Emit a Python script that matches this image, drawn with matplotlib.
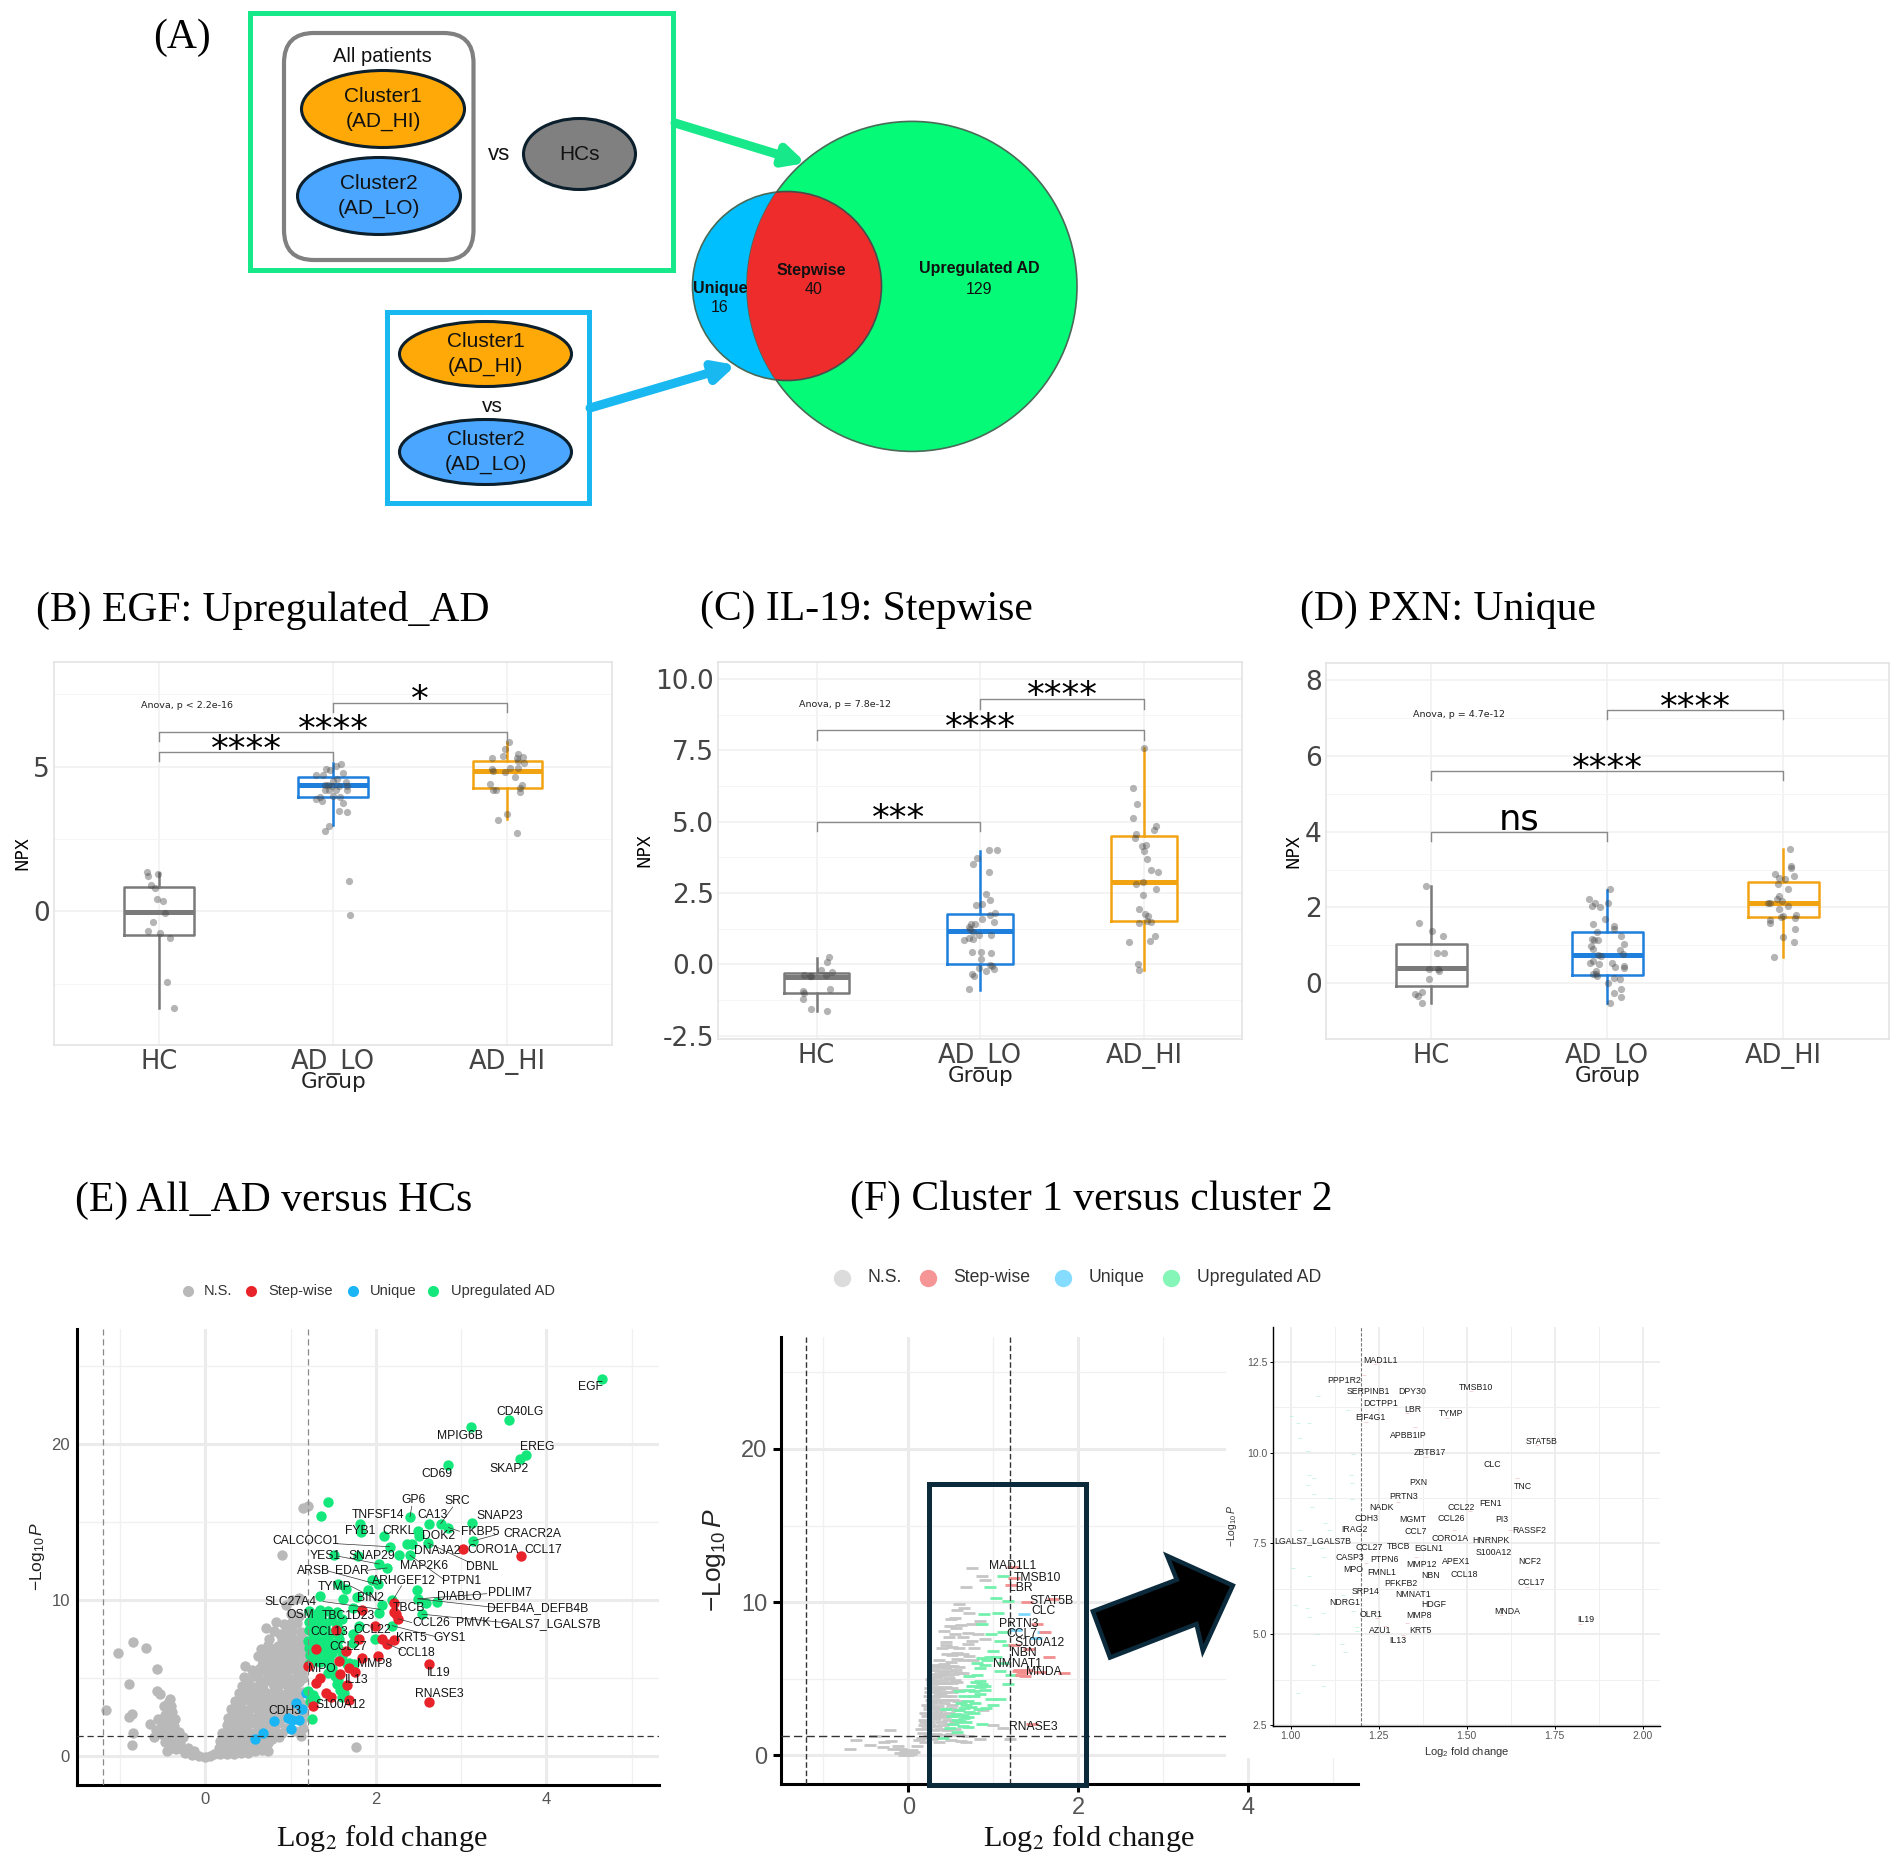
import matplotlib
matplotlib.use('Agg')
import matplotlib.pyplot as plt
from matplotlib.patches import Ellipse, Circle, Rectangle, FancyBboxPatch, FancyArrowPatch, Polygon
from matplotlib.lines import Line2D

plt.rcParams['font.family'] = ['Liberation Sans', 'DejaVu Sans']
plt.rcParams['mathtext.fontset'] = 'custom'
plt.rcParams['mathtext.rm'] = 'Liberation Sans'
plt.rcParams['mathtext.it'] = 'Liberation Sans:italic'

W, H = 1902, 1864
groups = ['HC', 'AD_LO', 'AD_HI']
group_cols = ['#7a7a7a', '#1f7fdc', '#f2a312']

# box stats: q1, median, q3, whisker low, whisker high
egf_box = [(-0.83, -0.02, 0.86, -3.33, 1.34), (3.94, 4.36, 4.65, 2.98, 5.12), (4.25, 4.86, 5.2, 3.18, 5.84)]
il19_box = [(-1.0, -0.43, -0.30, -1.65, 0.24), (0.02, 1.16, 1.78, -0.9, 3.98), (1.53, 2.89, 4.5, -0.2, 7.57)]
pxn_box = [(-0.06, 0.40, 1.04, -0.52, 2.56), (0.22, 0.74, 1.34, -0.52, 2.47), (1.74, 2.13, 2.66, 0.69, 3.54)]

# jittered points, x is offset from group centre
egf_hc_x = [-0.07, -0.06, -0.005, -0.047, -0.02, -0.012, 0.026, 0.037, -0.033, -0.063, 0.007, 0.065, 0.049, 0.089]
egf_hc_y = [1.37, 1.21, 1.29, 0.91, 0.82, 0.43, 0.35, -0.04, -0.37, -0.69, -0.76, -0.90, -2.44, -3.34]
egf_lo_x = [-0.096, -0.061, -0.042, -0.019, 0.014, 0.044, 0.056, 0.023, -0.002, 0.033, 0.075, 0.08, 0.082, -0.049, -0.03, -0.009,
            -0.049, -0.026, 0.016, -0.002, 0.037, -0.096, -0.073, -0.065, 0.056, 0.035, 0.077, -0.026, -0.044, 0.091, 0.098]
egf_lo_y = [4.73, 4.71, 4.91, 4.88, 5.02, 5.08, 4.79, 4.59, 4.50, 4.32, 4.46, 4.35, 4.21, 4.38, 4.38, 4.32,
            4.18, 4.21, 4.18, 4.0, 3.95, 3.89, 3.95, 3.80, 3.74, 3.48, 3.45, 2.96, 2.78, 1.05, -0.13]
egf_hi_x = [0.007, -0.014, -0.026, -0.089, 0.061, 0.089, 0.054, 0.061, 0.096, 0.061, 0.014, -0.014, -0.089, -0.084, 0.044, -0.098,
            0.084, 0.073, -0.084, -0.065, 0.073, -0.005, -0.054, 0.056]
egf_hi_y = [5.84, 5.61, 5.37, 5.29, 5.45, 5.35, 5.32, 5.2, 5.14, 4.97, 4.97, 4.83, 4.93, 4.84, 4.66, 4.42,
            4.38, 4.26, 4.18, 4.18, 4.12, 3.36, 3.17, 2.71]

il19_hc_x = [0.077, 0.065, 0.03, 0.092, -0.077, -0.04, -0.032, 0.055, 0.08, -0.08, -0.075, -0.085, -0.032, 0.065]
il19_hc_y = [0.25, 0.07, -0.21, -0.26, -0.38, -0.39, -0.42, -0.38, -0.88, -0.94, -1.02, -1.21, -1.56, -1.64]
il19_lo_x = [0.055, 0.1, -0.02, -0.042, 0.052, 0.035, 0.057, -0.025, 0.012, 0.062, 0.09, 0.012, -0.03, -0.055, -0.067, -0.06, 0.082, -0.042,
             -0.01, 0.065, -0.067, -0.097, -0.047, -0.05, 0.007, 0.065, 0.007, -0.005, 0.057, 0.07, 0.087, 0.037, -0.05, -0.04, -0.067]
il19_lo_y = [4.0, 4.0, 3.74, 3.51, 3.23, 2.46, 2.27, 2.09, 2.12, 1.73, 1.8, 1.59, 1.43, 1.43, 1.32, 1.23, 1.49, 1.14,
             1.04, 1.03, 0.92, 0.86, 0.88, 0.43, 0.44, 0.39, 0.19, -0.11, -0.02, -0.07, -0.17, -0.24, -0.32, -0.41, -0.88]
il19_hi_x = [0.002, -0.065, -0.042, -0.065, 0.075, 0.065, -0.045, -0.055, 0.012, -0.012, 0.002, 0.022, 0.042, 0.087, -0.005, -0.05, 0.077,
             -0.007, -0.03, 0.005, 0.025, 0.02, -0.032, 0.045, 0.07, -0.09, 0.035, -0.037, -0.03]
il19_hi_y = [7.57, 6.16, 5.61, 5.12, 4.83, 4.71, 4.57, 4.43, 4.19, 4.15, 3.97, 3.68, 3.32, 3.25, 2.89, 2.81, 2.65,
             2.42, 1.95, 1.76, 1.71, 1.53, 1.44, 1.47, 0.99, 0.8, 0.82, 0.01, -0.19]

pxn_hc_x = [-0.028, -0.072, 0.005, 0.065, 0.074, 0.032, -0.016, 0.039, 0.042, -0.012, -0.053, -0.095, -0.076, -0.053]
pxn_hc_y = [2.56, 1.58, 1.38, 1.25, 0.8, 0.79, 0.38, 0.38, 0.33, 0.11, -0.23, -0.29, -0.34, -0.53]
pxn_lo_x = [0.014, -0.102, -0.072, -0.09, -0.042, 0.005, -0.014, -0.081, 0.035, 0.035, -0.056, 0.076, -0.086, -0.074, -0.051, 0.095, -0.095, -0.083, 0.072, 0.09,
            -0.051, -0.035, -0.081, -0.1, -0.049, 0.025, 0.044, 0.093, 0.093, -0.067, -0.067, -0.081, -0.058, 0.037, 0.074, 0.002, 0.076, 0.035, 0.076, 0.014]
pxn_lo_y = [2.49, 2.23, 2.11, 2.05, 2.0, 2.13, 1.70, 1.57, 1.52, 1.43, 1.36, 1.25, 1.18, 1.13, 1.13, 1.04, 0.98, 0.91, 0.89, 0.78,
            0.75, 0.71, 0.6, 0.54, 0.5, 0.53, 0.43, 0.45, 0.39, 0.33, 0.24, 0.24, 0.2, 0.15, 0.11, 0, -0.16, -0.27, -0.37, -0.52]
pxn_hi_x = [0.037, 0.042, 0.042, -0.049, 0.06, -0.025, 0.012, -0.028, 0.025, -0.023, -0.035, -0.086, -0.076, -0.007, 0.028, -0.025, 0.07,
            -0.014, 0, 0.067, -0.076, -0.074, 0.067, -0.005, 0.058, -0.056]
pxn_hi_y = [3.54, 3.1, 3.05, 2.88, 2.84, 2.77, 2.74, 2.63, 2.49, 2.31, 2.23, 2.13, 2.13, 2.16, 2.04, 1.95, 1.8,
            1.75, 1.77, 1.71, 1.67, 1.58, 1.43, 1.21, 1.09, 0.69]

# brackets: group a, group b, y, tip y, text, text x, text y
egf_brackets = [(1, 2, 7.22, 6.89, '*', 1.5, 7.52), (0, 2, 6.2, 5.9, '****', 1, 6.5), (0, 1, 5.51, 5.2, '****', 0.5, 5.81)]
il19_brackets = [(1, 2, 9.28, 8.96, '****', 1.5, 9.61), (0, 2, 8.2, 7.87, '****', 1, 8.49), (0, 1, 5.0, 4.67, '***', 0.5, 5.3)]
pxn_brackets = [(1, 2, 7.21, 6.96, '****', 1.5, 7.42), (0, 2, 5.59, 5.36, '****', 1, 5.82), (0, 1, 4.0, 3.75, 'ns', 0.5, 4.42)]

# volcano E
e_ns = [(-1.03, 6.6), (-0.85, 7.3), (-0.70, 6.9), (-0.57, 5.6), (-0.9, 4.64), (-1.17, 2.96), (-0.86, 2.67), (-0.89, 2.52), (-0.85, 1.48),
        (-0.86, 0.69), (-0.65, 2.05), (-0.57, 4.15), (-0.53, 4.0), (-0.42, 3.65), (-0.445, 3.0), (-0.39, 2.8), (-0.36, 2.4), (-0.55, 2.4),
        (-0.58, 1.7), (-0.6, 1.2), (-0.47, 1.4), (-0.37, 1.9), (-0.31, 1.55), (-0.26, 1.2), (-0.42, 0.95), (-0.445, 0.3), (-0.34, 0.45),
        (-0.235, 0.2), (-0.16, 0.07), (-0.08, 0.02), (0.0, -0.05), (-0.44, 3.4), (-0.4, 3.2), (-0.47, 2.6), (-0.5, 1.9), (-0.44, 1.1),
        (-0.38, 1.5), (-0.3, 0.9), (-0.36, 0.7), (-0.28, 0.45), (-0.2, 0.5), (-0.13, 0.3), (-0.52, 2.2), (-0.48, 3.2), (-0.42, 2.2), (-0.52, 1.4),
        (-0.39, 0.5), (-0.47, 0.9), (-0.33, 1.1), (-0.41, 1.7),
        (0.05, 0.03), (0.1, 0.1), (0.17, 0.12), (0.25, 0.15), (0.33, 0.12), (0.42, 0.2), (0.5, 0.2), (0.58, 0.3), (0.66, 0.4), (0.73, 0.3),
        (0.16, 0.5), (0.24, 0.55), (0.32, 0.45), (0.4, 0.6), (0.48, 0.5), (0.56, 0.65), (0.63, 0.7),
        (0.17, 0.95), (0.23, 1.0), (0.3, 0.9), (0.37, 1.05), (0.44, 0.95), (0.52, 1.05), (0.6, 1.0), (0.68, 1.05), (0.78, 1.1),
        (0.2, 1.5), (0.27, 1.45), (0.34, 1.55), (0.41, 1.5), (0.49, 1.6), (0.57, 1.45), (0.65, 1.55), (0.72, 1.4), (0.82, 1.6), (0.9, 1.5), (1.15, 1.8),
        (0.25, 2.0), (0.32, 2.1), (0.39, 1.95), (0.47, 2.05), (0.54, 2.1), (0.62, 1.95), (0.7, 2.05), (0.77, 2.0), (0.85, 2.1), (1.13, 2.3),
        (0.27, 2.45), (0.34, 2.6), (0.42, 2.5), (0.5, 2.6), (0.58, 2.45), (0.66, 2.55), (0.74, 2.6), (0.82, 2.45), (0.9, 2.6), (1.15, 2.7),
        (0.3, 3.0), (0.37, 3.1), (0.45, 2.95), (0.53, 3.05), (0.6, 3.0), (0.68, 3.1), (0.76, 2.95), (0.85, 3.05), (0.93, 3.0), (1.0, 3.1),
        (0.35, 3.55), (0.43, 3.5), (0.5, 3.6), (0.57, 3.45), (0.65, 3.55), (0.74, 3.6), (0.82, 3.5), (0.9, 3.6), (0.98, 3.5), (1.1, 3.6),
        (0.4, 4.05), (0.48, 4.0), (0.55, 4.1), (0.63, 3.95), (0.71, 4.05), (0.79, 4.1), (0.87, 3.95), (0.96, 4.05), (1.05, 4.0), (1.14, 4.1),
        (0.43, 4.5), (0.5, 4.6), (0.58, 4.45), (0.66, 4.55), (0.8, 4.5), (0.88, 4.6), (0.97, 4.45), (1.06, 4.55),
        (0.45, 5.05), (0.52, 5.0), (0.6, 5.1), (0.73, 5.0), (0.82, 5.05), (0.9, 5.1), (0.99, 4.95), (1.08, 5.05), (1.15, 5.0),
        (0.47, 5.75), (0.55, 5.5), (0.63, 5.6), (0.7, 5.45), (0.78, 5.55), (0.86, 5.6), (0.94, 5.45), (1.03, 5.55), (1.12, 5.6),
        (0.62, 6.4), (0.68, 6.1), (0.76, 6.0), (0.84, 6.1), (0.92, 6.0), (1.0, 6.1), (1.09, 6.0), (1.17, 6.1),
        (0.65, 6.85), (0.72, 6.6), (0.8, 6.5), (0.88, 6.6), (0.96, 6.5), (1.05, 6.6), (1.14, 6.55),
        (0.74, 7.1), (0.85, 7.05), (0.93, 7.1), (1.01, 7.0), (1.1, 7.1), (0.75, 7.5), (0.9, 7.5), (0.98, 7.55), (1.06, 7.45), (1.14, 7.5),
        (0.71, 8.2), (0.8, 8.0), (0.94, 8.0), (1.02, 8.1), (1.12, 7.95), (0.83, 8.6), (0.92, 8.45), (1.0, 8.5), (1.07, 8.55),
        (1.0, 9.1), (1.1, 9.0), (0.94, 9.7), (1.02, 10.0), (1.1, 10.1), (0.9, 12.9), (1.15, 15.9), (1.2, 16.05), (1.77, 0.6),
        (0.21, 0.75), (0.35, 0.75), (0.46, 1.25), (0.58, 1.25), (0.74, 0.85), (0.86, 1.25), (0.95, 1.8), (1.05, 1.6), (1.12, 1.3), (0.3, 2.25), (0.45, 2.3),
        (0.6, 2.25), (0.75, 2.3), (0.88, 2.3), (0.98, 2.5), (1.05, 2.75), (0.34, 2.85), (0.48, 2.8), (0.64, 2.8), (0.8, 2.75), (0.95, 2.75), (1.08, 3.3),
        (0.4, 3.3), (0.55, 3.25), (0.72, 3.3), (0.88, 3.3), (1.14, 3.3), (0.46, 3.8), (0.6, 3.75), (0.77, 3.8), (0.94, 3.8), (0.52, 4.3), (0.68, 4.3), (0.84, 4.3),
        (1.0, 4.3), (0.48, 4.8), (0.64, 4.85), (0.76, 4.8), (0.92, 4.8), (1.1, 4.75), (0.58, 5.3), (0.76, 5.3), (0.95, 5.25), (1.13, 5.3), (0.66, 5.85),
        (0.82, 5.8), (0.98, 5.8), (1.14, 5.85), (0.84, 6.35), (1.0, 6.35), (1.13, 6.9), (0.96, 6.85), (0.82, 6.85), (1.05, 7.25), (0.87, 7.8), (1.0, 7.8)]
e_up = [(4.65, 24.15), (3.56, 21.55), (3.12, 21.06), (3.76, 19.28), (3.69, 19.0), (2.84, 18.67), (1.36, 15.38), (1.44, 16.25),
        (2.40, 15.33), (3.13, 14.94), (2.62, 14.86), (2.76, 14.89), (2.85, 14.64), (1.81, 14.89), (1.83, 14.37), (2.09, 14.1),
        (2.49, 14.4), (2.5, 14.1), (2.61, 13.65), (3.14, 13.78), (2.36, 13.58), (2.42, 13.6), (2.16, 13.41), (1.51, 12.91), (1.79, 12.79),
        (2.27, 12.86), (2.40, 12.86), (2.04, 12.3), (2.13, 12.05), (1.95, 11.31), (1.55, 11.0), (1.65, 10.69), (2.02, 11.0), (1.91, 10.62),
        (2.48, 10.64), (1.34, 10.25), (1.61, 10.07), (1.78, 10.2), (2.49, 10.07), (2.59, 9.78), (2.72, 9.88), (2.19, 10.0), (2.07, 9.7),
        (1.73, 9.46), (2.04, 9.14), (2.54, 9.09), (2.19, 8.35), (1.8, 8.35), (1.99, 7.48), (1.73, 7.23), (1.34, 9.33), (1.44, 9.28), (1.54, 9.21),
        (1.26, 8.96), (1.36, 8.84), (1.49, 8.72), (1.26, 8.47), (1.34, 8.35), (1.54, 8.35), (1.26, 7.9), (1.36, 7.98), (1.49, 7.9), (1.2, 7.36),
        (1.36, 7.36), (1.49, 7.23), (1.57, 7.48), (1.73, 7.85), (1.23, 6.49), (1.31, 6.37), (1.39, 6.74), (1.49, 6.62), (1.26, 6.12), (1.34, 6.0),
        (1.68, 5.93), (1.74, 5.88), (1.49, 5.63), (1.52, 5.14), (1.54, 4.64), (1.62, 4.4), (1.62, 4.02), (1.6, 3.78), (1.2, 4.15), (1.26, 3.9),
        (1.28, 3.65), (1.25, 2.37), (1.22, 9.3), (1.3, 9.1), (1.22, 8.6), (1.42, 8.55), (1.6, 8.8), (1.22, 8.1), (1.3, 8.2), (1.42, 8.05), (1.58, 8.0),
        (1.28, 7.6), (1.43, 7.65), (1.27, 7.1), (1.42, 7.0), (1.56, 6.9), (1.22, 6.9), (1.33, 6.7), (1.45, 6.25), (1.22, 5.9), (1.4, 6.3), (1.6, 6.4), (1.45, 5.9),
        (1.56, 4.9), (1.66, 5.9), (1.58, 4.2), (1.44, 5.35), (1.23, 3.5)]
e_step = [(3.02, 13.28), (3.7, 12.79), (2.21, 9.83), (1.84, 9.33), (2.21, 9.21), (2.23, 9.09), (2.26, 8.79), (1.99, 8.35), (1.53, 8.1), (1.8, 7.53),
          (2.07, 7.48), (2.13, 7.19), (2.21, 7.41), (1.3, 6.86), (2.03, 6.42), (1.84, 6.25), (1.65, 6.74), (1.57, 6.12), (2.62, 5.88), (1.2, 5.75),
          (1.69, 5.63), (1.76, 5.38), (1.58, 5.26), (1.34, 5.01), (1.3, 4.69), (1.66, 4.52), (1.42, 4.02), (1.47, 3.78), (1.68, 3.6), (2.62, 3.46), (1.26, 3.23)]
e_uni = [(1.06, 3.41), (1.13, 3.04), (0.97, 2.42), (1.02, 2.3), (1.1, 2.3), (1.0, 1.73), (0.68, 1.48), (0.58, 1.06), (1.18, 4.02), (0.81, 2.25)]
e_labels = [('EGF', 4.52, 23.67), ('CD40LG', 3.69, 22.07), ('MPIG6B', 2.98, 20.49), ('EREG', 3.89, 19.8), ('SKAP2', 3.56, 18.42), ('CD69', 2.71, 18.1),
            ('GP6', 2.44, 16.42), ('SRC', 2.95, 16.35), ('TNFSF14', 2.03, 15.46), ('CA13', 2.66, 15.46), ('SNAP23', 3.45, 15.41), ('FYB1', 1.82, 14.44),
            ('CRKL', 2.26, 14.44), ('FKBP5', 3.22, 14.37), ('CRACR2A', 3.84, 14.22), ('DOK2', 2.73, 14.12), ('CALCOCO1', 1.18, 13.77), ('DNAJA2', 2.72, 13.11),
            ('CORO1A', 3.37, 13.2), ('CCL17', 3.96, 13.23), ('YES1', 1.41, 12.79), ('SNAP29', 1.95, 12.84), ('MAP2K6', 2.56, 12.15), ('DBNL', 3.25, 12.12),
            ('ARSB', 1.27, 11.85), ('EDAR', 1.72, 11.85), ('ARHGEF12', 2.33, 11.19), ('PTPN1', 3.01, 11.19), ('TYMP', 1.51, 10.86), ('PDLIM7', 3.57, 10.44),
            ('DIABLO', 2.98, 10.17), ('BIN2', 1.94, 10.12), ('SLC27A4', 1.0, 9.9), ('TBCB', 2.39, 9.5), ('DEFB4A_DEFB4B', 3.9, 9.5), ('OSM', 1.11, 9.01),
            ('TBC1D23', 1.68, 9.0), ('CCL26', 2.65, 8.5), ('PMVK', 3.14, 8.5), ('LGALS7_LGALS7B', 4.01, 8.46), ('CCL13', 1.45, 7.95), ('CCL22', 1.96, 8.05),
            ('KRT5', 2.42, 7.55), ('GYS1', 2.86, 7.55), ('CCL27', 1.67, 6.96), ('CCL18', 2.47, 6.62), ('MMP8', 1.98, 5.88), ('MPO', 1.37, 5.58), ('IL19', 2.74, 5.33),
            ('IL13', 1.77, 4.89), ('RNASE3', 2.74, 3.98), ('S100A12', 1.59, 3.24), ('CDH3', 0.93, 2.86)]
e_links = [(1.55, 13.6, 2.16, 13.41), (1.38, 9.9, 2.05, 9.4), (3.42, 9.5, 2.5, 10.07), (3.6, 8.5, 2.54, 9.09), (3.3, 10.4, 2.49, 10.07), (3.42, 14.2, 3.14, 13.78),
           (2.98, 14.4, 2.85, 14.64), (2.9, 15.95, 2.76, 14.89), (2.42, 16.0, 2.4, 15.33), (3.1, 12.4, 2.61, 13.65), (2.8, 11.3, 2.4, 12.86), (1.44, 11.85, 2.02, 11.0),
           (2.3, 10.9, 2.2, 10.0), (1.56, 12.8, 2.04, 12.3), (1.9, 11.9, 2.13, 12.05), (1.7, 10.9, 2.02, 10.0), (2.7, 7.65, 2.19, 8.35), (2.3, 6.8, 2.13, 7.19), (2.42, 8.55, 2.26, 8.79)]

# volcano F
f_ns = [(-0.69, 0.4), (-0.62, 1.03), (-0.39, 1.28), (-0.22, 1.66), (-0.18, 0.4), (-0.1, 0.15), (-0.05, 0.05), (0.0, 0.0), (0.03, 0.1), (0.07, 0.25), (-0.28, 0.9), (-0.12, 0.6),
        (-0.02, 0.12), (0.01, 0.22), (-0.04, 0.3), (0.05, 0.38), (-0.08, 0.42), (-0.45, 0.7), (-0.3, 0.55), (-0.2, 0.95),
        (0.1, 0.6), (0.16, 1.15), (0.2, 2.16), (0.24, 3.2), (0.28, 4.67), (0.32, 5.93), (0.45, 7.2), (0.49, 8.44), (0.75, 12.2), (0.87, 11.7), (0.91, 11.46), (0.68, 11.0), (0.6, 9.9),
        (0.66, 9.6), (0.72, 9.3), (0.55, 9.0), (0.62, 8.5), (0.7, 8.0), (0.75, 7.5), (0.55, 7.9), (0.45, 7.4), (0.52, 7.1), (0.6, 7.0), (0.7, 7.3), (0.78, 7.0),
        (0.36, 6.2), (0.42, 6.0), (0.5, 6.1), (0.58, 6.3), (0.65, 6.2), (0.3, 5.6), (0.37, 5.5), (0.44, 5.7), (0.5, 5.5), (0.56, 5.6), (0.27, 5.0), (0.34, 5.1), (0.41, 4.9), (0.48, 5.05), (0.55, 4.95),
        (0.26, 4.4), (0.32, 4.5), (0.38, 4.35), (0.45, 4.5), (0.51, 4.4), (0.24, 3.9), (0.3, 3.8), (0.36, 3.95), (0.43, 3.85), (0.5, 3.9), (0.22, 3.3), (0.28, 3.4), (0.35, 3.25), (0.42, 3.4), (0.52, 3.3),
        (0.2, 2.8), (0.27, 2.7), (0.34, 2.85), (0.4, 2.7), (0.48, 2.75), (0.18, 2.3), (0.25, 2.2), (0.32, 2.35), (0.39, 2.2), (0.47, 2.3), (0.55, 2.2), (0.15, 1.7), (0.22, 1.8), (0.3, 1.65), (0.38, 1.75), (0.46, 1.65), (0.55, 1.7),
        (0.13, 1.0), (0.2, 0.9), (0.28, 1.05), (0.36, 0.9), (0.5, 1.0), (0.62, 0.95), (0.68, 0.85), (1.0, 2.0), (1.12, 1.8), (1.2, 1.1), (0.85, 1.1), (0.88, 3.0), (0.82, 7.9), (0.9, 7.6),
        (0.29, 5.8), (0.35, 5.85), (0.41, 5.75), (0.47, 5.85), (0.53, 5.85), (0.6, 5.8), (0.3, 5.3), (0.36, 5.25), (0.42, 5.35), (0.47, 5.25), (0.53, 5.3), (0.6, 5.35), (0.65, 5.4),
        (0.28, 4.85), (0.34, 4.75), (0.4, 4.75), (0.46, 4.75), (0.52, 4.7), (0.58, 4.8), (0.26, 4.15), (0.33, 4.2), (0.39, 4.1), (0.45, 4.15), (0.52, 4.15), (0.57, 4.3), (0.27, 3.6), (0.33, 3.55),
        (0.39, 3.65), (0.46, 3.6), (0.53, 3.65), (0.59, 3.55), (0.24, 3.05), (0.3, 3.1), (0.37, 3.0), (0.44, 3.05), (0.5, 3.1), (0.58, 3.0), (0.22, 2.55), (0.29, 2.5), (0.36, 2.6), (0.43, 2.5), (0.5, 2.55),
        (0.57, 2.65), (0.19, 2.0), (0.26, 2.0), (0.33, 1.95), (0.41, 2.0), (0.49, 2.05), (0.17, 1.45), (0.25, 1.4), (0.33, 1.4), (0.41, 1.35), (0.5, 1.4), (0.6, 1.35), (0.7, 1.3),
        (0.46, 6.6), (0.52, 6.55), (0.58, 6.7), (0.64, 6.6), (0.72, 6.5), (0.76, 6.2), (0.4, 7.0), (0.48, 7.75), (0.56, 8.3), (0.64, 7.7), (0.5, 8.9), (0.42, 8.1), (0.75, 8.6), (0.58, 9.5), (0.84, 8.8)]
f_up = [(1.12, 11.7), (0.96, 11), (1.04, 10.25), (1.17, 10.1), (0.89, 9.2), (1.06, 9.3), (0.87, 8.57), (0.98, 7.94), (1.12, 8.07), (1.08, 7.44), (1.17, 7.19), (1.0, 6.8),
        (0.96, 6.43), (0.81, 6.05), (0.91, 5.93), (1.12, 6.05), (1.21, 5.23), (0.72, 5.18), (0.81, 5.23), (0.87, 4.67), (0.75, 4.55), (0.91, 4.55), (1.17, 4.67), (0.98, 3.67),
        (1.08, 3.67), (0.68, 3.29), (0.79, 3.42), (0.83, 3.04), (0.64, 2.66), (0.7, 2.54), (0.77, 2.79), (0.58, 2.29), (0.53, 2.04), (0.64, 1.91), (0.87, 2.04), (0.49, 1.78),
        (0.41, 1.15), (0.58, 1.53), (0.45, 3.04), (0.66, 3.9), (0.6, 4.2), (0.72, 4.3), (0.85, 4.85), (0.56, 2.7), (0.68, 2.2),
        (0.8, 4.8), (0.84, 4.5), (0.78, 4.2), (0.85, 4.0), (0.9, 4.25), (0.77, 3.85), (0.7, 3.55), (0.74, 3.15), (0.66, 3.1), (0.62, 3.45), (0.6, 2.95), (0.72, 2.85), (0.66, 2.45),
        (0.61, 2.25), (0.52, 2.6), (0.7, 1.85), (0.85, 5.7), (0.93, 6.2), (0.87, 6.35), (1.03, 6.45), (1.08, 5.5), (1.0, 3.3), (0.92, 3.1)]
f_step = [(1.23, 12.3), (1.25, 11.6), (1.21, 11.1), (1.4, 10), (1.71, 10.2), (1.52, 8.57), (1.61, 8.07), (1.25, 7.2), (1.66, 6.43), (1.29, 5.48), (1.36, 5.43), (1.33, 5.23),
          (1.84, 5.38), (1.55, 5.43), (1.46, 2.04), (1.42, 6.93), (1.3, 5.6), (1.38, 5.2), (1.34, 5.45), (1.4, 5.6)]
f_uni = [(1.36, 9.25), (1.5, 7.69), (1.59, 8.07), (1.27, 8.19)]
f_labels = [('MAD1L1', 1.23, 12.33), ('TMSB10', 1.52, 11.58), ('LBR', 1.33, 10.95), ('STAT5B', 1.69, 10.08), ('CLC', 1.59, 9.45), ('PRTN3', 1.30, 8.57), ('CCL7', 1.34, 7.94),
            ('S100A12', 1.55, 7.34), ('NBN', 1.36, 6.68), ('NMNAT1', 1.29, 5.98), ('MNDA', 1.60, 5.43), ('RNASE3', 1.47, 1.86)]

# inset
i_up = [(1.079, 11.56), (1.164, 11.17), (1.0, 11.0), (1.022, 10.82), (1.053, 10.82), (1.027, 10.41), (1.05, 10.04), (1.176, 9.96), (1.053, 9.39), (1.067, 9.31), (1.17, 9.39),
        (1.05, 9.1), (1.173, 9.17), (1.067, 8.87), (1.112, 8.76), (1.173, 8.72), (1.06, 8.49), (1.098, 8.05), (1.11, 7.87), (1.027, 7.87), (1.088, 7.37), (1.095, 7.14), (1.008, 6.82),
        (1.053, 6.61), (1.15, 6.08), (1.012, 5.81), (1.047, 5.72), (1.093, 5.6), (1.053, 5.47), (1.178, 5.63), (1.188, 5.21), (1.188, 5.08), (1.074, 5.01), (1.147, 4.73), (1.154, 4.51),
        (1.064, 4.16), (1.093, 3.58), (1.022, 3.4)]
i_step = [(1.24, 12.43), (1.208, 12.13), (1.511, 11.68), (1.353, 10.69), (1.443, 10.94), (1.214, 10.85), (1.331, 11.08), (1.699, 10.2), (1.384, 9.89), (1.642, 9.31), (1.306, 8.65),
          (1.508, 8.38), (1.464, 7.87), (1.623, 7.87), (1.356, 7.14), (1.214, 6.95), (1.67, 6.31), (1.597, 5.53), (1.822, 5.29), (1.268, 5.23), (1.33, 5.32), (1.318, 4.98), (1.244, 5.44)]
i_labels = [('MAD1L1', 1.255, 12.53), ('PPP1R2', 1.153, 11.99), ('SERPINB1', 1.221, 11.67), ('DPY30', 1.345, 11.67), ('TMSB10', 1.527, 11.79), ('DCTPP1', 1.256, 11.34), ('LBR', 1.347, 11.18),
            ('TYMP', 1.457, 11.07), ('EIF4G1', 1.227, 10.97), ('APBB1IP', 1.335, 10.47), ('STAT5B', 1.714, 10.3), ('ZBTB17', 1.397, 10.0), ('CLC', 1.574, 9.66), ('PXN', 1.362, 9.19),
            ('TNC', 1.66, 9.08), ('PRTN3', 1.321, 8.78), ('NADK', 1.258, 8.49), ('FEN1', 1.567, 8.59), ('CCL22', 1.485, 8.49), ('CDH3', 1.216, 8.18), ('MGMT', 1.348, 8.16), ('CCL26', 1.457, 8.2),
            ('PI3', 1.599, 8.15), ('IRAG2', 1.182, 7.88), ('RASSF2', 1.678, 7.87), ('CCL7', 1.356, 7.84), ('CORO1A', 1.453, 7.65), ('LGALS7_LGALS7B', 1.063, 7.59), ('HNRNPK', 1.568, 7.58),
            ('CCL27', 1.222, 7.4), ('TBCB', 1.307, 7.43), ('EGLN1', 1.393, 7.35), ('S100A12', 1.576, 7.24), ('CASP3', 1.169, 7.11), ('PTPN6', 1.266, 7.05), ('APEX1', 1.471, 7.0), ('NCF2', 1.68, 7.0),
            ('MMP12', 1.372, 6.92), ('MPO', 1.177, 6.79), ('FMNL1', 1.258, 6.7), ('NBN', 1.398, 6.61), ('CCL18', 1.493, 6.65), ('CCL17', 1.683, 6.42), ('PFKFB2', 1.313, 6.4), ('SRP14', 1.214, 6.19),
            ('NMNAT1', 1.347, 6.1), ('NDRG1', 1.154, 5.87), ('HDGF', 1.405, 5.82), ('MNDA', 1.614, 5.63), ('OLR1', 1.229, 5.55), ('MMP8', 1.364, 5.51), ('IL19', 1.837, 5.4), ('AZU1', 1.254, 5.11),
            ('KRT5', 1.369, 5.11), ('IL13', 1.304, 4.83)]


def axes_px(fig, left, top, right, bottom):
    return fig.add_axes([left / W, 1 - bottom / H, (right - left) / W, (bottom - top) / H])


def boxpanel(fig, box, stats, pts_x, pts_y, ylim, major, minor, brackets, anova, anova_xy):
    ax = axes_px(fig, *box)
    ax.set_xlim(-0.6, 2.6)
    ax.set_ylim(*ylim)
    ax.set_axisbelow(True)
    ax.set_yticks(major)
    ax.set_yticks(minor, minor=True)
    ax.set_xticks([0, 1, 2], groups)
    ax.grid(True, which='major', color='#f0f0f0', lw=1.1)
    ax.grid(True, which='minor', axis='y', color='#f5f5f5', lw=0.7)
    for s in ax.spines.values():
        s.set_color('#e2e2e2')
        s.set_linewidth(1.1)
    ax.tick_params(which='both', length=0)
    ax.tick_params(axis='x', labelsize=18.5, labelcolor='#444444', pad=3)
    ax.tick_params(axis='y', labelsize=19, labelcolor='#444444', pad=3)
    for lab in ax.get_xticklabels() + ax.get_yticklabels():
        lab.set_family('DejaVu Sans')
    for i, st in enumerate(stats):
        q1, med, q3, lo, hi = st
        c = group_cols[i]
        ax.bxp([{'med': med, 'q1': q1, 'q3': q3, 'whislo': lo, 'whishi': hi, 'fliers': []}], positions=[i], widths=0.4,
               showfliers=False, showcaps=False, manage_ticks=False,
               boxprops=dict(color=c, lw=1.8), whiskerprops=dict(color=c, lw=1.8), medianprops=dict(color=c, lw=3.6, solid_capstyle='butt'))
        ax.scatter([i + v for v in pts_x[i]], pts_y[i], s=27, color='#444444', alpha=0.4, linewidths=0, zorder=4)
    for a, b, y, tip, txt, tx, ty in brackets:
        ax.plot([a, a, b, b], [tip, y, y, tip], color='#8a8a8a', lw=1.0, zorder=5)
        ax.annotate(txt, (tx, ty), xytext=(0, -2.5 if txt == 'ns' else -4.5), textcoords='offset points', ha='center', va='center',
                    fontsize=25.5, family='DejaVu Sans', color='black', zorder=6)
    ax.text(anova_xy[0], anova_xy[1], anova, ha='left', va='center', fontsize=6.8, family='DejaVu Sans', color='#222222')
    ax.set_xlabel('Group', fontsize=15.5, family='DejaVu Sans', color='#222222', labelpad=-2)
    ax.set_ylabel('NPX', fontsize=12, family='DejaVu Sans', color='black')
    return ax


def volcano_base(ax, xlim, ylim):
    ax.set_xlim(*xlim)
    ax.set_ylim(*ylim)
    ax.set_axisbelow(True)
    ax.set_xticks([0, 2, 4])
    ax.set_yticks([0, 10, 20])
    ax.set_xticks([-1, 1, 3, 5], minor=True)
    ax.set_yticks([5, 15, 25], minor=True)
    ax.grid(True, which='major', color='#ebebeb', lw=2.2)
    ax.grid(True, which='minor', color='#f0f0f0', lw=1.0)
    ax.spines['top'].set_visible(False)
    ax.spines['right'].set_visible(False)
    ax.spines['left'].set_linewidth(2.2)
    ax.spines['bottom'].set_linewidth(2.2)
    ax.tick_params(which='minor', length=0)


fig = plt.figure(figsize=(W / 100, H / 100), dpi=100, facecolor='white')

# ---- box plots
bx_b = boxpanel(fig, (54.3, 662, 612, 1044.6), egf_box, [egf_hc_x, egf_lo_x, egf_hi_x], [egf_hc_y, egf_lo_y, egf_hi_y], (-4.6, 8.62),
                [0, 5], [-2.5, 2.5, 7.5], egf_brackets, 'Anova, p < 2.2e-16', (-0.103, 7.11))
bx_c = boxpanel(fig, (718.4, 662, 1242, 1038.6), il19_box, [il19_hc_x, il19_lo_x, il19_hi_x], [il19_hc_y, il19_lo_y, il19_hi_y], (-2.6, 10.59),
                [-2.5, 0, 2.5, 5, 7.5, 10], [-1.25, 1.25, 3.75, 6.25, 8.75], il19_brackets, 'Anova, p = 7.8e-12', (-0.11, 9.1))
bx_c.set_yticklabels(['-2.5', '0.0', '2.5', '5.0', '7.5', '10.0'])
bx_d = boxpanel(fig, (1325.7, 663, 1889, 1038.6), pxn_box, [pxn_hc_x, pxn_lo_x, pxn_hi_x], [pxn_hc_y, pxn_lo_y, pxn_hi_y], (-1.46, 8.45),
                [0, 2, 4, 6, 8], [1, 3, 5, 7], pxn_brackets, 'Anova, p = 4.7e-12', (-0.104, 7.08))
bx_b.yaxis.set_label_coords(-0.042, 0.5)
bx_c.yaxis.set_label_coords(-0.125, 0.5)
bx_d.yaxis.set_label_coords(-0.042, 0.5)

# ---- volcano E
ax_e = axes_px(fig, 76.8, 1329, 658.5, 1784.6)
volcano_base(ax_e, (-1.508, 5.314), (-1.83, 27.36))
ax_e.tick_params(axis='both', which='major', length=0, labelsize=12, labelcolor='#555555', pad=5)
for pts, col in [(e_ns, '#b9b9b9'), (e_uni, '#19b5f5'), (e_up, '#14e87c'), (e_step, '#e8232a')]:
    ax_e.scatter([p[0] for p in pts], [p[1] for p in pts], s=56, color=col, linewidths=0, zorder=3)
ax_e.axvline(-1.2, color='#8a8a8a', lw=0.9, ls=(0, (5, 3)), zorder=4)
ax_e.axvline(1.2, color='#8a8a8a', lw=0.9, ls=(0, (5, 3)), zorder=4)
ax_e.axhline(1.3, color='#333333', lw=0.9, ls=(0, (5, 3)), zorder=4)
for x0, y0, x1, y1 in e_links:
    ax_e.plot([x0, x1], [y0, y1], color='#333333', lw=0.5, zorder=5)
for name, x, y in e_labels:
    ax_e.text(x, y, name, ha='center', va='center', fontsize=8.7, color='#151515', zorder=6)
ax_e.set_ylabel(r'$-\mathrm{Log}_{10}\,\mathit{P}$', fontsize=12.5, color='#222222', math_fontfamily='custom')
ax_e.yaxis.set_label_coords(-0.052, 0.5)

# ---- volcano F
ax_f = axes_px(fig, 780.7, 1337, 1358, 1784)
volcano_base(ax_f, (-1.503, 5.3), (-1.86, 27.3))
ax_f.tick_params(axis='both', which='major', length=5.5, width=2.2, labelsize=17, labelcolor='#555555', pad=4)
for pts, col in [(f_ns, '#c6c6c6'), (f_up, '#72f0ac'), (f_uni, '#7fd8ff'), (f_step, '#f28e8e')]:
    ax_f.plot([p[0] for p in pts], [p[1] for p in pts], ls='none', marker='_', ms=8, mew=2.0, color=col, zorder=3)
ax_f.axvline(-1.2, color='#333333', lw=1.0, ls=(0, (4, 2)), zorder=4)
ax_f.axvline(1.2, color='#333333', lw=1.0, ls=(0, (4, 2)), zorder=4)
ax_f.axhline(1.3, color='#333333', lw=1.0, ls=(0, (6, 3)), zorder=4)
for name, x, y in f_labels:
    ax_f.text(x, y, name, ha='center', va='center', fontsize=8.7, color='#1a1a1a', zorder=6)
ax_f.set_ylabel(r'$-\mathrm{Log}_{10}\,\mathit{P}$', fontsize=19, color='#222222', math_fontfamily='custom')
ax_f.yaxis.set_label_coords(-0.092, 0.5)

# ---- overlay in pixel coordinates: panel A, titles, legends, callouts
ov = fig.add_axes([0, 0, 1, 1], zorder=5)
ov.set_xlim(0, W)
ov.set_ylim(H, 0)
ov.axis('off')
ov.patch.set_alpha(0)

serif = 'Liberation Serif'
for txt, x, y in [('(A)', 153, 38), ('(B) EGF: Upregulated_AD', 36, 610), ('(C) IL-19: Stepwise', 699.6, 610), ('(D) PXN: Unique', 1299.5, 610),
                  ('(E) All_AD versus HCs', 75, 1201), ('(F) Cluster 1 versus cluster 2', 850, 1200)]:
    ov.text(x, y, txt, family=serif, fontsize=30, ha='left', va='center', color='black')
for x in (381.7, 1089):
    ov.text(x, 1839, r'Log$_2$ fold change', family=serif, fontsize=21.8, ha='center', va='center', math_fontfamily='stix', color='#111111')

# legends
for lx, tx, lab, c in [(187.5, 204, 'N.S.', '#b9b9b9'), (251, 268, 'Step-wise', '#e8232a'), (353, 370, 'Unique', '#19b5f5'), (433, 451, 'Upregulated AD', '#14e87c')]:
    ov.add_line(Line2D([lx], [1291], marker='o', ms=8, color=c, mew=0))
    ov.text(tx, 1291, lab, fontsize=10.5, va='center', ha='left', color='#333333')
for lx, tx, lab, c in [(841.8, 867.9, 'N.S.', '#dcdcdc'), (927.9, 953.6, 'Step-wise', '#f59595'), (1062.5, 1088.6, 'Unique', '#86dcff'), (1170.7, 1197, 'Upregulated AD', '#86f5b8')]:
    ov.add_line(Line2D([lx], [1278], marker='o', ms=12.5, color=c, mew=0))
    ov.text(tx, 1278, lab, fontsize=12.7, va='center', ha='left', color='#333333')

# inset background and call-out
ov.add_patch(Rectangle((1226, 1300), 454, 458, fc='white', ec='none'))
ov.add_patch(Rectangle((928.6, 1484), 157.4, 300.6, fc='none', ec='#0b2a3c', lw=3.6))
ar = [(1100, 912), (1148, 1032), (1390, 945), (1408, 1015), (1492, 845), (1308, 768), (1335, 830)]
ov.add_patch(Polygon([(700 + a / 2.8, 1260 + b / 2.596) for a, b in ar], closed=True, fc='black', ec='#0b2a3c', lw=3.2))

# panel A boxes
green_c, blue_c = '#17e88a', '#19b8f0'
orange, lblue = '#ffa908', '#4ba6ff'
ov.add_patch(Rectangle((250, 13), 423, 257, fc='white', ec=green_c, lw=3.6))
ov.add_patch(Rectangle((387, 312), 202, 191, fc='white', ec=blue_c, lw=3.6))
ov.add_patch(FancyBboxPatch((284 + 30, 33 + 30), 189.5 - 60, 227 - 60, boxstyle='round,pad=30', fc='white', ec='#808080', lw=3))
ellipses = [(383, 109, 163, 77, orange, 'Cluster1\n(AD_HI)'), (379, 196, 163, 77, lblue, 'Cluster2\n(AD_LO)'), (579.5, 154, 112, 71, '#808080', 'HCs'),
            (485.5, 354, 172, 65, orange, 'Cluster1\n(AD_HI)'), (485.5, 452, 172, 65, lblue, 'Cluster2\n(AD_LO)')]
for cx, cy, w, h, c, txt in ellipses:
    ov.add_patch(Ellipse((cx, cy), w, h, fc=c, ec='#0b1f2c', lw=2.2))
    ov.text(cx, cy, txt, ha='center', va='center', fontsize=15, color='#111111', linespacing=1.4)
ov.text(382, 57, 'All patients', ha='center', va='center', fontsize=14.5, color='#111111')
ov.text(499.5, 154, 'vs', ha='center', va='center', fontsize=16, color='#111111')
ov.text(492.5, 406, 'vs', ha='center', va='center', fontsize=15, color='#111111')
ov.add_patch(FancyArrowPatch((675, 123), (806, 163), arrowstyle='-|>', mutation_scale=30, lw=6.5, color=green_c, shrinkA=0, shrinkB=0))
ov.add_patch(FancyArrowPatch((590, 408), (736, 365), arrowstyle='-|>', mutation_scale=30, lw=6.5, color=blue_c, shrinkA=0, shrinkB=0))

# venn
big = Circle((912, 286.4), 165, fc='#05fa78', ec='#4a6a58', lw=1.2)
uniq = Circle((787, 286), 94.5, fc='#00bfff', ec='#4a6a58', lw=1.2)
ov.add_patch(uniq)
ov.add_patch(big)
lens = Circle((787, 286), 94.5, fc='#ee2c2c', ec='#4a4a4a', lw=1.2)
ov.add_patch(lens)
lens.set_clip_path(big)
for txt, x, y, wt in [('Upregulated AD', 979, 268, 'bold'), ('129', 979, 289, 'normal'), ('Stepwise', 811, 270, 'bold'), ('40', 814, 290, 'normal'),
                      ('Unique', 720, 288, 'bold'), ('16', 720, 308, 'normal')]:
    ov.text(x, y, txt, fontsize=11.5, fontweight=wt, ha='center', va='center', color='#111111')

# ---- inset
ax_i = axes_px(fig, 1272.7, 1326.7, 1660, 1725.7)
ax_i.set_zorder(6)
ax_i.patch.set_alpha(0)
ax_i.set_xlim(0.949, 2.049)
ax_i.set_ylim(2.49, 13.46)
ax_i.set_axisbelow(True)
ax_i.set_xticks([1.0, 1.25, 1.5, 1.75, 2.0], ['1.00', '1.25', '1.50', '1.75', '2.00'])
ax_i.set_yticks([2.5, 5, 7.5, 10, 12.5], ['2.5', '5.0', '7.5', '10.0', '12.5'])
ax_i.set_xticks([1.125, 1.375, 1.625, 1.875], minor=True)
ax_i.set_yticks([3.75, 6.25, 8.75, 11.25], minor=True)
ax_i.grid(True, which='major', color='#ebebeb', lw=1.2)
ax_i.grid(True, which='minor', color='#f0f0f0', lw=0.7)
ax_i.spines['top'].set_visible(False)
ax_i.spines['right'].set_visible(False)
ax_i.spines['left'].set_linewidth(1.0)
ax_i.spines['bottom'].set_linewidth(1.0)
ax_i.tick_params(which='minor', length=0)
ax_i.tick_params(which='major', length=2, width=0.7, labelsize=7.5, labelcolor='#555555', pad=2)
ax_i.plot([p[0] for p in i_up], [p[1] for p in i_up], ls='none', marker='_', ms=2.4, mew=0.5, color='#b5f3d3')
ax_i.plot([p[0] for p in i_step], [p[1] for p in i_step], ls='none', marker='_', ms=2.2, mew=0.5, color='#f6c0c0')
ax_i.axvline(1.2, color='#777777', lw=0.8, ls=(0, (3, 1.5)))
for name, x, y in i_labels:
    ax_i.text(x, y, name, ha='center', va='center', fontsize=6.3, color='#1c1c1c')
ax_i.set_xlabel(r'Log$_2$ fold change', fontsize=8, color='#333333', labelpad=3, math_fontfamily='custom')
ax_i.set_ylabel(r'$-\mathrm{Log}_{10}\,\mathit{P}$', fontsize=7.5, color='#333333', math_fontfamily='custom')
ax_i.yaxis.set_label_coords(-0.087, 0.5)

fig.savefig('out.png', dpi=100, facecolor='white')
